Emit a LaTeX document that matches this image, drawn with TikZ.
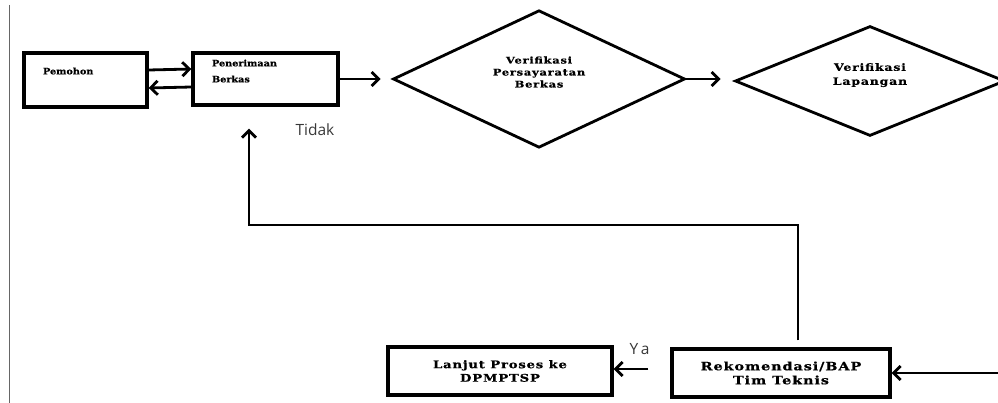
\documentclass[tikz,border=0pt]{standalone}
\usepackage{fontspec}
\usetikzlibrary{shapes.geometric,arrows.meta}
\newfontfamily\boxfont[FakeStretch=1.1, FakeBold=0.6]{DejaVu Serif}
\newfontfamily\widefont[FakeStretch=1.25, LetterSpace=8, FakeBold=0.6]{DejaVu Serif}
\newfontfamily\notefont{Open Sans}

\tikzset{
  kotak/.style={draw, line width=3.4pt, rectangle, inner sep=0pt},
  belah/.style={draw, line width=2.8pt, diamond, inner sep=0pt, align=center},
  panah/.style={line width=2.8pt, -{Straight Barb[length=7pt,width=14pt,line width=2.8pt]}},
  ket/.style={font=\notefont\fontsize{15.5}{18}\selectfont, text=black!78},
}

\begin{document}
\begin{tikzpicture}[x=1pt,y=-1pt]
\useasboundingbox (0,0) rectangle (998,403);

\draw[black!60, line width=1pt] (9,5)--(9,403);%tepi kiri

    \node[kotak, minimum width=123pt, minimum height=54pt, text width=85pt, align=left,
      font=\boxfont\bfseries\fontsize{8.8}{12}\selectfont] (pemohon) at (85.5,80) {Pemohon\\[6pt]~};
    \node[kotak, minimum width=145pt, minimum height=52pt, text width=107pt, align=left,
      font=\boxfont\bfseries\fontsize{8.8}{12}\selectfont] (terima) at (265.5,79) {Penerimaan\\[4pt]Berkas\\[4pt]~};

    \node[belah, minimum width=292pt, minimum height=130pt,
      font=\widefont\bfseries\fontsize{9.2}{12}\selectfont] (verif1) at (539,79) {Verifikasi\\Persayaratan\\Berkas\\[2pt]~};
    \node[belah, minimum width=270pt, minimum height=108pt,
      font=\widefont\bfseries\fontsize{10}{14}\selectfont] (verif2) at (870,81) {Verifikasi\\Lapangan\\[0pt]~};

    \node[kotak, minimum width=224pt, minimum height=48pt, align=center,
      font=\widefont\bfseries\fontsize{10.5}{13.5}\selectfont] (lanjut) at (500,371) {Lanjut Proses ke\\DPMPTSP};
    \node[kotak, minimum width=218pt, minimum height=48pt, align=center,
      font=\widefont\bfseries\fontsize{11.5}{14}\selectfont] (rekom) at (781,373) {Rekomendasi/BAP\\Tim Teknis};

    \coordinate (masuk) at (998,373);
    \coordinate (belok) at (249,225);

    \draw[panah] ([yshift=10pt]pemohon.east) -- ([yshift=10pt]terima.west);
    \draw[panah] ([yshift=-8pt]terima.west) -- ([yshift=-8pt]pemohon.east);
    \draw[panah, shorten >=11pt] (terima.east) -- (verif1.west);
    \draw[panah, shorten >=13pt] (verif1.east) -- (verif1.east -| verif2.west);
    \draw[panah] (masuk) -- (rekom.east);
    \draw[panah, shorten <=22pt] ([yshift=4pt]rekom.west) -- ([yshift=2pt]lanjut.east);
    \draw[panah, shorten <=7pt, shorten >=22pt] ([xshift=17pt]rekom.north) |- (belok) -- ([xshift=-16.5pt]terima.south);%kembali

    \node[ket] (tidak) at (315,130) {Tidak};
    \node[ket] (ya) at (639.5,349) {Y\kern2.5pt a};
\end{tikzpicture}
\end{document}
